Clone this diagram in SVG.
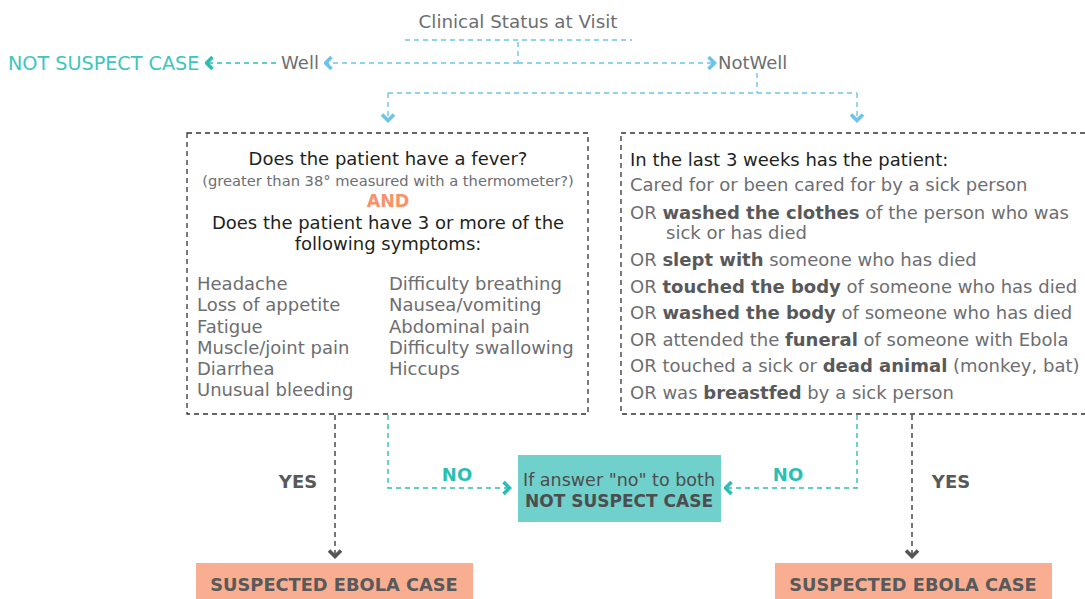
<svg xmlns="http://www.w3.org/2000/svg" width="1085" height="599" viewBox="0 0 1085 599">
<style>
text{font-family:"DejaVu Sans","Liberation Sans",sans-serif}
.g{fill:#6d6e71;font-size:18px}
.k{fill:#231f20;font-size:18px}
.b{font-weight:bold;fill:#58595b}
.blue{stroke:#6ec4e8;stroke-width:1.4;stroke-dasharray:5 4;fill:none}
.teal{stroke:#2bbfb4;stroke-width:1.4;stroke-dasharray:5 4;fill:none}
.dark{stroke:#555;stroke-width:1.6;stroke-dasharray:5 4;fill:none}
.box{stroke:#333;stroke-width:1.3;stroke-dasharray:5 4;fill:#fff}
.lbl{font-weight:bold;font-size:18px}
</style>
<defs>
<marker id="mb" viewBox="0 0 12 16" markerWidth="12" markerHeight="16" refX="10.5" refY="8" orient="auto" markerUnits="userSpaceOnUse"><path d="M4,2 L10,8 L4,14" fill="none" stroke="#6ec4e8" stroke-width="3.6"/></marker>
<marker id="mt" viewBox="0 0 12 16" markerWidth="12" markerHeight="16" refX="10.5" refY="8" orient="auto" markerUnits="userSpaceOnUse"><path d="M4,2 L10,8 L4,14" fill="none" stroke="#2bbfb4" stroke-width="3.6"/></marker>
<marker id="md" viewBox="0 0 12 16" markerWidth="12" markerHeight="16" refX="10.5" refY="8" orient="auto" markerUnits="userSpaceOnUse"><path d="M4,2 L10,8 L4,14" fill="none" stroke="#555" stroke-width="3.6"/></marker>
</defs>
<rect width="1085" height="599" fill="#fff"/>

<g id="connectors">
<path class="blue" d="M405,40 H632"/>
<path class="blue" d="M518,42 V62"/>
<path class="blue" d="M518,63 H325" marker-end="url(#mb)"/>
<path class="blue" d="M518,63 H715" marker-end="url(#mb)"/>
<path class="teal" d="M276,63 H206" marker-end="url(#mt)"/>
<path class="blue" d="M757,73 V93"/>
<path class="blue" d="M388,93 H857"/>
<path class="blue" d="M388,93 V121" marker-end="url(#mb)"/>
<path class="blue" d="M857,93 V121" marker-end="url(#mb)"/>
<path class="dark" d="M335,415 V557" marker-end="url(#md)"/>
<path class="dark" d="M912,415 V557" marker-end="url(#md)"/>
<path class="teal" d="M388,415 V488 H510" marker-end="url(#mt)"/>
<path class="teal" d="M857,415 V488 H725" marker-end="url(#mt)"/>
<text class="lbl" x="298" y="488" text-anchor="middle" fill="#58595b">YES</text>
<text class="lbl" x="951" y="488" text-anchor="middle" fill="#58595b">YES</text>
<text class="lbl" x="457" y="481" text-anchor="middle" fill="#2bbfb4">NO</text>
<text class="lbl" x="788" y="481" text-anchor="middle" fill="#2bbfb4">NO</text>
</g>

<g id="title">
<text x="518" y="28" text-anchor="middle" fill="#6d6e71" font-size="18.3">Clinical Status at Visit</text>
</g>
<g id="well">
<text x="300" y="69" text-anchor="middle" fill="#6d6e71" font-size="18">Well</text>
</g>
<g id="notwell">
<text x="718" y="69" fill="#6d6e71" font-size="18">NotWell</text>
</g>
<g id="not-suspect-top">
<text x="8" y="70" fill="#3cc6bd" font-size="19.2">NOT SUSPECT CASE</text>
</g>

<g id="symptoms-box">
<rect class="box" x="187" y="133" width="401" height="281"/>
<text class="k" x="388" y="165" text-anchor="middle">Does the patient have a fever?</text>
<text x="388" y="186" text-anchor="middle" fill="#6d6e71" font-size="14.7">(greater than 38° measured with a thermometer?)</text>
<text x="388" y="207" text-anchor="middle" fill="#f7926a" font-size="17.5" font-weight="bold">AND</text>
<text class="k" x="388" y="229" text-anchor="middle">Does the patient have 3 or more of the</text>
<text class="k" x="388" y="250" text-anchor="middle">following symptoms:</text>
<g class="g">
<text x="197" y="290">Headache</text>
<text x="197" y="311">Loss of appetite</text>
<text x="197" y="333">Fatigue</text>
<text x="197" y="354">Muscle/joint pain</text>
<text x="197" y="375">Diarrhea</text>
<text x="197" y="396">Unusual bleeding</text>
<text x="389" y="290">Difficulty breathing</text>
<text x="389" y="311">Nausea/vomiting</text>
<text x="389" y="333">Abdominal pain</text>
<text x="389" y="354">Difficulty swallowing</text>
<text x="389" y="375">Hiccups</text>
</g>
</g>

<g id="exposure-box">
<rect class="box" x="621" y="133" width="470" height="281"/>
<text class="k" x="630" y="166">In the last 3 weeks has the patient:</text>
<g class="g">
<text x="630" y="191">Cared for or been cared for by a sick person</text>
<text x="630" y="219">OR <tspan class="b">washed the clothes</tspan> of the person who was</text>
<text x="666" y="239">sick or has died</text>
<text x="630" y="266">OR <tspan class="b">slept with</tspan> someone who has died</text>
<text x="630" y="293">OR <tspan class="b">touched the body</tspan> of someone who has died</text>
<text x="630" y="319">OR <tspan class="b">washed the body</tspan> of someone who has died</text>
<text x="630" y="346">OR attended the <tspan class="b">funeral</tspan> of someone with Ebola</text>
<text x="630" y="372">OR touched a sick or <tspan class="b">dead animal</tspan> (monkey, bat)</text>
<text x="630" y="399">OR was <tspan class="b">breastfed</tspan> by a sick person</text>
</g>
</g>

<g id="not-suspect-box">
<rect x="518" y="455" width="203" height="67" fill="#6fd0cc"/>
<text x="619" y="486" text-anchor="middle" fill="#4d4d4f" font-size="17.5">If answer "no" to both</text>
<text x="619" y="507" text-anchor="middle" fill="#4d4d4f" font-size="17" font-weight="bold">NOT SUSPECT CASE</text>
</g>

<g id="suspected-left">
<rect x="196" y="563" width="277" height="36" fill="#f9ae91"/>
<text x="334" y="591" text-anchor="middle" fill="#58595b" font-size="17.8" font-weight="bold">SUSPECTED EBOLA CASE</text>
</g>
<g id="suspected-right">
<rect x="775" y="563" width="277" height="36" fill="#f9ae91"/>
<text x="913" y="591" text-anchor="middle" fill="#58595b" font-size="17.8" font-weight="bold">SUSPECTED EBOLA CASE</text>
</g>
</svg>
